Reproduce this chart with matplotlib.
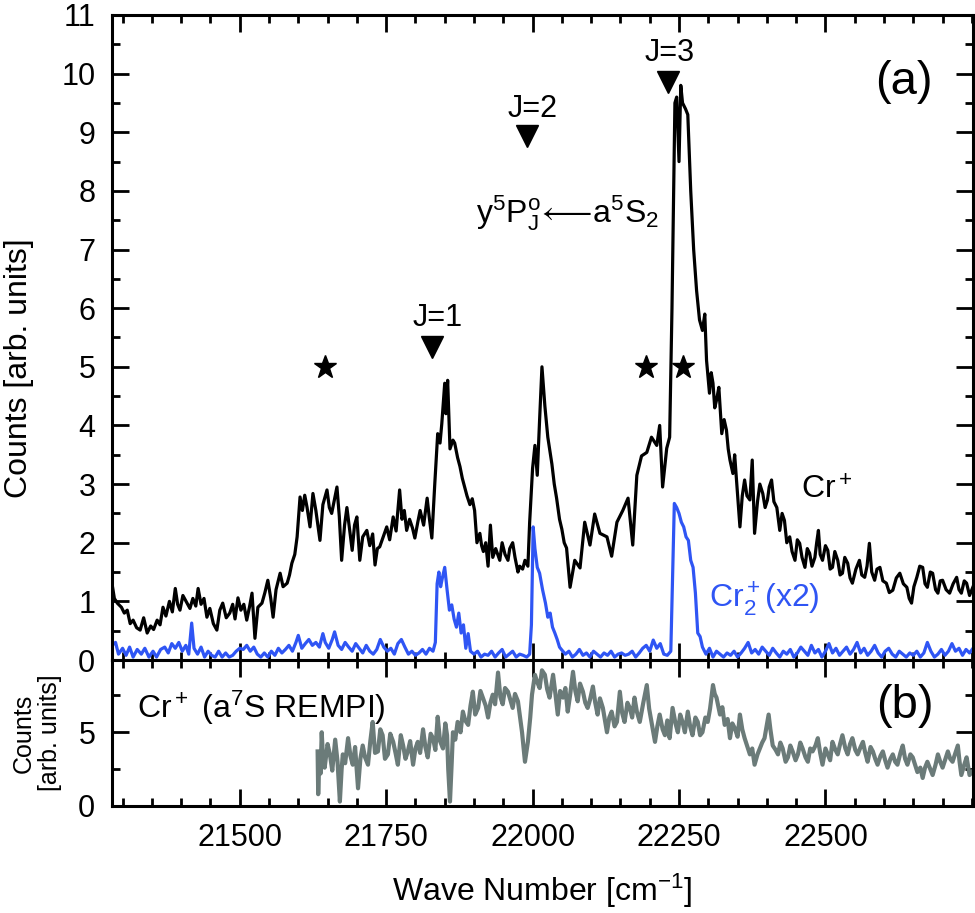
#!/usr/bin/env python3
# Cr+ / Cr2+ spectra around the y5P <- a5S2 lines, plus the a7S REMPI trace

import matplotlib
matplotlib.use("Agg")
import matplotlib.pyplot as plt
from matplotlib.ticker import MultipleLocator

plt.rcParams['font.family'] = ['Liberation Sans', 'DejaVu Sans']
plt.rcParams['mathtext.fontset'] = 'custom'
plt.rcParams['mathtext.rm'] = 'Liberation Sans'
plt.rcParams['mathtext.it'] = 'Liberation Sans:italic'
plt.rcParams['mathtext.bf'] = 'Liberation Sans:bold'
plt.rcParams['mathtext.fallback'] = 'stixsans'

# ---- panel (a): Cr+ signal (black) ----
cr_x = [21282, 21286, 21291, 21298, 21303, 21308, 21313, 21318, 21324, 21330,
        21336, 21342, 21348, 21353, 21359, 21364, 21369, 21374, 21380, 21385,
        21390, 21394, 21398, 21403, 21410, 21415, 21420, 21425, 21429, 21434,
        21439, 21444, 21449, 21455, 21461, 21466, 21471, 21477, 21483, 21488,
        21492, 21497, 21502, 21507, 21512, 21517, 21521, 21526, 21531, 21538,
        21543, 21548, 21553, 21557, 21562, 21569, 21574, 21581, 21585, 21589,
        21594, 21598, 21603, 21607, 21611, 21615, 21620, 21625, 21630, 21637,
        21642, 21649, 21653, 21657, 21661, 21666, 21670, 21674, 21679, 21683,
        21688, 21692, 21696, 21700, 21705, 21710, 21717, 21722, 21727, 21731,
        21735, 21739, 21745, 21751, 21756, 21762, 21767, 21773, 21777, 21781,
        21785, 21790, 21795, 21799, 21804, 21808, 21814, 21820, 21824, 21828,
        21833, 21838, 21842, 21845, 21850, 21852, 21855, 21859, 21864, 21867,
        21872, 21876, 21880, 21884, 21888, 21893, 21897, 21901, 21905, 21910,
        21913, 21916, 21920, 21924, 21928, 21932, 21937, 21944, 21948, 21953,
        21958, 21961, 21966, 21970, 21975, 21978, 21983, 21987, 21992, 21995,
        22000, 22004, 22008, 22012, 22016, 22021, 22026, 22033, 22037, 22041,
        22046, 22050, 22054, 22058, 22064, 22072, 22081, 22089, 22098, 22106,
        22115, 22127, 22135, 22144, 22154, 22163, 22171, 22178, 22186, 22195,
        22203, 22212, 22217, 22222, 22229, 22234, 22238, 22243, 22246, 22250,
        22253, 22256, 22261, 22265, 22270, 22275, 22280, 22285, 22290, 22294,
        22297, 22302, 22305, 22308, 22311, 22314, 22318, 22323, 22327, 22331,
        22334, 22337, 22342, 22345, 22349, 22354, 22358, 22362, 22366, 22371,
        22375, 22379, 22384, 22388, 22393, 22397, 22401, 22404, 22408, 22412,
        22417, 22422, 22426, 22430, 22434, 22439, 22443, 22448, 22452, 22456,
        22460, 22465, 22469, 22473, 22477, 22482, 22485, 22488, 22491, 22495,
        22500, 22504, 22508, 22512, 22516, 22521, 22525, 22529, 22533, 22538,
        22542, 22546, 22552, 22558, 22562, 22567, 22571, 22575, 22579, 22584,
        22588, 22593, 22598, 22604, 22609, 22615, 22621, 22627, 22633, 22639,
        22643, 22647, 22651, 22656, 22661, 22666, 22670, 22674, 22679, 22683,
        22688, 22692, 22696, 22700, 22706, 22712, 22718, 22724, 22728, 22732,
        22737, 22741, 22746, 22752]
cr_y = [1.30, 1.05, 0.97, 0.90, 0.80, 0.85, 0.62, 0.68, 0.55, 0.51,
        0.72, 0.46, 0.58, 0.52, 0.68, 0.60, 0.90, 0.75, 1.00, 0.82,
        1.22, 0.95, 0.85, 1.10, 0.97, 0.88, 1.05, 0.92, 1.22, 0.95,
        1.05, 0.73, 0.88, 0.62, 0.51, 0.85, 0.97, 0.72, 0.80, 0.95,
        0.70, 1.06, 0.85, 0.95, 0.68, 0.92, 1.14, 0.37, 0.90, 0.97,
        1.15, 1.36, 1.05, 0.73, 1.20, 1.48, 1.25, 1.31, 1.45, 1.65,
        1.80, 2.10, 2.78, 2.55, 2.81, 2.60, 2.27, 2.84, 2.55, 2.04,
        2.65, 2.90, 2.60, 2.50, 2.70, 2.95, 2.45, 1.70, 2.30, 2.60,
        2.20, 1.87, 2.30, 2.44, 1.70, 2.10, 2.21, 1.95, 2.15, 1.62,
        1.90, 1.93, 2.10, 2.27, 2.05, 2.44, 2.20, 2.90, 2.40, 2.55,
        2.21, 2.40, 2.25, 2.08, 2.35, 2.55, 2.30, 2.76, 2.40, 2.08,
        3.00, 3.86, 3.70, 4.03, 4.72, 4.20, 4.77, 3.60, 3.75, 3.70,
        3.45, 3.30, 3.10, 2.95, 2.80, 2.65, 2.75, 2.55, 2.00, 2.16,
        1.95, 1.85, 2.00, 1.60, 2.30, 1.75, 1.90, 1.70, 2.00, 1.80,
        1.70, 1.90, 2.00, 1.75, 1.50, 1.60, 1.55, 1.70, 1.60, 2.35,
        3.27, 3.66, 3.15, 4.10, 5.00, 4.33, 3.80, 3.34, 3.00, 2.76,
        2.40, 2.23, 2.00, 1.91, 1.24, 1.70, 1.57, 2.35, 1.96, 2.49,
        2.16, 2.10, 1.77, 2.35, 2.55, 2.76, 1.96, 3.15, 3.48, 3.54,
        3.80, 3.66, 4.00, 2.95, 3.61, 3.80, 6.00, 9.50, 9.60, 8.50,
        9.80, 9.50, 9.40, 9.30, 8.00, 7.00, 6.30, 5.80, 5.62, 5.90,
        5.11, 4.55, 4.90, 4.72, 4.30, 4.43, 4.65, 3.86, 4.10, 3.92,
        3.60, 3.41, 3.18, 3.50, 2.95, 2.27, 2.80, 3.07, 2.80, 2.73,
        3.41, 2.16, 2.70, 3.00, 2.84, 2.60, 2.73, 2.95, 3.07, 2.70,
        2.60, 2.21, 2.50, 2.38, 2.00, 2.10, 1.85, 1.70, 2.05, 1.99,
        1.75, 1.58, 1.90, 1.82, 1.60, 1.75, 2.00, 2.21, 1.80, 1.70,
        1.95, 1.87, 1.55, 1.58, 1.85, 1.70, 1.45, 1.48, 1.75, 1.65,
        1.40, 1.31, 1.55, 1.70, 1.45, 1.41, 1.60, 1.99, 1.50, 1.36,
        1.55, 1.58, 1.35, 1.31, 1.15, 1.19, 1.40, 1.48, 1.30, 1.24,
        1.05, 0.97, 1.25, 1.41, 1.60, 1.58, 1.30, 1.24, 1.50, 1.48,
        1.20, 1.14, 1.35, 1.36, 1.20, 1.14, 1.30, 1.41, 1.20, 1.14,
        1.35, 1.31, 1.10, 1.25]

# ---- panel (a): Cr2+ signal x2 (blue) ----
cr2_x = [21282, 21288, 21293, 21300, 21306, 21312, 21318, 21325, 21332, 21338,
         21345, 21352, 21358, 21365, 21372, 21378, 21384, 21390, 21396, 21402,
         21408, 21413, 21418, 21422, 21428, 21434, 21440, 21446, 21452, 21458,
         21464, 21470, 21476, 21482, 21488, 21494, 21500, 21506, 21512, 21518,
         21524, 21530, 21536, 21542, 21548, 21554, 21560, 21566, 21572, 21578,
         21584, 21590, 21596, 21600, 21606, 21612, 21618, 21624, 21630, 21636,
         21642, 21646, 21652, 21658, 21662, 21668, 21674, 21680, 21686, 21692,
         21698, 21704, 21710, 21716, 21722, 21728, 21734, 21740, 21746, 21752,
         21758, 21764, 21770, 21776, 21782, 21788, 21794, 21800, 21806, 21812,
         21818, 21824, 21830, 21834, 21837, 21840, 21843, 21846, 21850, 21854,
         21858, 21862, 21866, 21870, 21874, 21878, 21882, 21886, 21890, 21894,
         21900, 21906, 21912, 21918, 21924, 21930, 21936, 21942, 21948, 21954,
         21960, 21966, 21972, 21978, 21984, 21990, 21995, 21998, 22001, 22004,
         22008, 22012, 22017, 22022, 22026, 22030, 22034, 22038, 22042, 22046,
         22050, 22056, 22062, 22068, 22074, 22080, 22086, 22092, 22098, 22104,
         22110, 22116, 22122, 22128, 22134, 22140, 22146, 22152, 22158, 22164,
         22170, 22176, 22182, 22188, 22194, 22200, 22206, 22212, 22218, 22224,
         22230, 22236, 22239, 22242, 22246, 22250, 22254, 22258, 22262, 22266,
         22270, 22274, 22278, 22282, 22286, 22290, 22296, 22302, 22308, 22314,
         22320, 22326, 22332, 22338, 22344, 22350, 22356, 22362, 22368, 22374,
         22380, 22386, 22392, 22398, 22404, 22410, 22416, 22422, 22428, 22434,
         22440, 22446, 22452, 22458, 22464, 22470, 22476, 22482, 22488, 22494,
         22500, 22506, 22512, 22518, 22524, 22530, 22536, 22542, 22548, 22554,
         22560, 22566, 22572, 22578, 22584, 22590, 22596, 22602, 22608, 22614,
         22620, 22626, 22632, 22638, 22644, 22650, 22656, 22662, 22668, 22674,
         22680, 22686, 22692, 22698, 22704, 22710, 22716, 22722, 22728, 22734,
         22740, 22746, 22752]
cr2_y = [0.25, 0.30, 0.10, 0.20, 0.08, 0.22, 0.05, 0.18, 0.10, 0.20,
         0.05, 0.15, 0.05, 0.18, 0.22, 0.12, 0.28, 0.20, 0.30, 0.15,
         0.25, 0.10, 0.63, 0.20, 0.10, 0.22, 0.05, 0.15, 0.08, 0.05,
         0.15, 0.05, 0.12, 0.05, 0.08, 0.15, 0.20, 0.18, 0.25, 0.15,
         0.22, 0.10, 0.05, 0.12, 0.05, 0.15, 0.08, 0.20, 0.12, 0.18,
         0.25, 0.15, 0.30, 0.42, 0.20, 0.28, 0.35, 0.25, 0.30, 0.22,
         0.45, 0.30, 0.20, 0.35, 0.48, 0.25, 0.18, 0.30, 0.22, 0.15,
         0.28, 0.20, 0.12, 0.25, 0.15, 0.10, 0.18, 0.35, 0.22, 0.15,
         0.20, 0.10, 0.28, 0.35, 0.22, 0.10, 0.15, 0.08, 0.12, 0.18,
         0.10, 0.20, 0.15, 0.30, 1.30, 1.50, 1.25, 1.40, 1.58, 1.20,
         0.85, 0.94, 0.70, 0.56, 0.80, 0.46, 0.60, 0.20, 0.45, 0.15,
         0.10, 0.15, 0.05, 0.10, 0.08, 0.15, 0.05, 0.12, 0.18, 0.05,
         0.10, 0.15, 0.05, 0.10, 0.08, 0.05, 0.10, 0.60, 2.27, 1.90,
         1.58, 1.48, 1.20, 0.97, 0.73, 0.80, 0.56, 0.46, 0.35, 0.22,
         0.17, 0.10, 0.15, 0.05, 0.10, 0.18, 0.08, 0.12, 0.05, 0.15,
         0.10, 0.05, 0.12, 0.08, 0.15, 0.05, 0.10, 0.12, 0.08, 0.10,
         0.15, 0.05, 0.12, 0.20, 0.25, 0.15, 0.34, 0.20, 0.28, 0.10,
         0.08, 0.15, 1.40, 2.67, 2.60, 2.50, 2.35, 2.27, 2.10, 2.04,
         1.70, 1.58, 1.14, 0.46, 0.40, 0.22, 0.10, 0.20, 0.05, 0.15,
         0.10, 0.05, 0.12, 0.08, 0.15, 0.05, 0.12, 0.20, 0.30, 0.12,
         0.18, 0.10, 0.22, 0.15, 0.08, 0.20, 0.12, 0.05, 0.15, 0.10,
         0.18, 0.05, 0.12, 0.22, 0.15, 0.08, 0.25, 0.12, 0.18, 0.05,
         0.15, 0.28, 0.12, 0.20, 0.08, 0.15, 0.22, 0.10, 0.18, 0.30,
         0.12, 0.20, 0.08, 0.15, 0.25, 0.12, 0.05, 0.15, 0.20, 0.10,
         0.05, 0.15, 0.10, 0.05, 0.12, 0.08, 0.15, 0.05, 0.12, 0.30,
         0.15, 0.05, 0.10, 0.18, 0.08, 0.15, 0.28, 0.15, 0.20, 0.08,
         0.18, 0.12, 0.20]

# ---- panel (b): Cr+ via a7S REMPI (grey) ----
rempi_x = [21633, 21634, 21636, 21638, 21640, 21642, 21645, 21650, 21654, 21658,
           21663, 21667, 21671, 21674, 21676, 21680, 21685, 21689, 21693, 21697,
           21702, 21706, 21710, 21714, 21719, 21723, 21727, 21731, 21736, 21740,
           21744, 21748, 21753, 21757, 21762, 21766, 21770, 21775, 21779, 21783,
           21787, 21791, 21796, 21800, 21804, 21808, 21813, 21817, 21821, 21826,
           21830, 21834, 21838, 21842, 21847, 21851, 21854, 21856, 21859, 21862,
           21864, 21868, 21872, 21877, 21881, 21885, 21890, 21894, 21898, 21902,
           21907, 21911, 21915, 21920, 21924, 21928, 21932, 21936, 21941, 21945,
           21949, 21953, 21958, 21962, 21966, 21970, 21975, 21982, 21987, 21992,
           21996, 21999, 22004, 22008, 22012, 22016, 22021, 22025, 22029, 22035,
           22039, 22043, 22047, 22052, 22056, 22060, 22064, 22069, 22073, 22077,
           22081, 22086, 22090, 22094, 22098, 22103, 22107, 22111, 22115, 22120,
           22127, 22131, 22135, 22140, 22144, 22149, 22153, 22157, 22162, 22166,
           22170, 22174, 22178, 22183, 22189, 22195, 22199, 22203, 22209, 22213,
           22217, 22222, 22226, 22230, 22234, 22239, 22244, 22248, 22252, 22256,
           22260, 22265, 22269, 22273, 22278, 22282, 22286, 22290, 22295, 22299,
           22303, 22308, 22311, 22314, 22320, 22324, 22328, 22333, 22337, 22341,
           22345, 22350, 22354, 22358, 22362, 22367, 22371, 22375, 22379, 22384,
           22388, 22392, 22396, 22403, 22406, 22410, 22415, 22419, 22423, 22427,
           22432, 22436, 22440, 22444, 22449, 22453, 22457, 22461, 22466, 22470,
           22474, 22478, 22483, 22487, 22491, 22495, 22500, 22504, 22508, 22512,
           22517, 22521, 22525, 22529, 22534, 22538, 22542, 22546, 22551, 22555,
           22560, 22564, 22568, 22572, 22577, 22581, 22585, 22589, 22594, 22598,
           22602, 22606, 22611, 22615, 22619, 22623, 22628, 22632, 22636, 22640,
           22645, 22649, 22653, 22657, 22662, 22666, 22670, 22674, 22679, 22683,
           22688, 22692, 22696, 22700, 22705, 22709, 22713, 22717, 22722, 22726,
           22729, 22732, 22737, 22741, 22744, 22746, 22752]
rempi_y = [3.7, 0.8, 3.5, 2.2, 5.0, 3.4, 2.6, 4.2, 3.5, 2.4,
           4.5, 3.0, 0.3, 2.5, 3.5, 2.9, 4.6, 3.4, 2.8, 4.0,
           1.2, 3.2, 4.1, 3.3, 2.8, 4.4, 5.7, 3.6, 3.7, 5.2,
           4.8, 3.2, 3.5, 4.9, 4.35, 3.6, 2.8, 4.8, 4.1, 3.2,
           3.7, 4.4, 2.8, 3.9, 4.35, 3.6, 5.2, 4.0, 3.3, 4.9,
           4.6, 3.8, 6.05, 4.4, 3.9, 5.6, 4.8, 2.5, 0.3, 3.0,
           5.0, 4.5, 5.7, 5.0, 6.4, 5.8, 5.5, 6.8, 7.75, 6.2,
           6.65, 7.8, 7.35, 6.8, 6.0, 7.0, 7.55, 6.9, 9.05, 7.4,
           6.9, 8.0, 7.75, 7.2, 6.65, 7.6, 7.1, 5.0, 3.0, 4.35,
           6.0, 7.55, 8.9, 8.4, 8.0, 9.2, 8.9, 7.9, 7.35, 8.9,
           7.6, 6.2, 7.8, 7.35, 8.0, 6.4, 7.5, 9.1, 7.8, 7.1,
           8.3, 7.75, 7.0, 6.65, 7.2, 8.1, 7.0, 6.2, 7.3, 6.65,
           5.0, 6.0, 6.4, 5.4, 5.7, 7.75, 6.3, 5.7, 7.0, 6.65,
           6.0, 7.35, 6.4, 5.7, 7.0, 8.2, 6.6, 5.7, 4.35, 5.4,
           6.2, 5.2, 4.8, 5.8, 4.6, 6.65, 5.6, 5.0, 6.2, 5.7,
           5.0, 6.4, 5.4, 4.8, 6.0, 5.7, 4.8, 5.0, 6.0, 5.7,
           6.6, 8.2, 7.6, 7.35, 6.2, 6.7, 5.5, 5.9, 4.6, 5.6,
           5.3, 4.7, 6.2, 5.2, 4.6, 4.0, 3.5, 3.9, 2.8, 3.5,
           3.9, 4.3, 4.6, 6.2, 5.2, 4.1, 3.8, 3.5, 4.3, 3.9,
           3.0, 3.3, 4.1, 3.7, 3.1, 3.5, 4.3, 3.9, 3.3, 3.0,
           3.9, 3.7, 4.1, 4.6, 3.6, 2.8, 3.9, 3.5, 3.1, 4.35,
           3.8, 3.5, 4.2, 4.8, 3.9, 3.5, 4.2, 4.6, 3.8, 3.5,
           4.0, 4.35, 3.6, 3.0, 4.0, 3.7, 3.2, 2.8, 3.4, 3.7,
           3.1, 2.6, 3.2, 3.5, 3.0, 2.8, 3.6, 4.1, 3.2, 2.8,
           3.5, 3.3, 2.8, 2.3, 2.6, 1.9, 2.6, 3.0, 2.5, 2.1,
           2.8, 3.5, 3.0, 2.6, 3.2, 3.7, 3.2, 3.0, 3.6, 4.1,
           3.0, 2.1, 2.8, 3.3, 2.6, 2.1, 2.4]

# line markers: J assignments (triangles) and stars
j_labels = ['J=1', 'J=2', 'J=3']
j_mark_x = [21828, 21990, 22231]
j_mark_y = [5.33, 8.94, 9.85]
j_text_x = [21838, 22000, 22234]
j_text_y = [5.84, 9.40, 10.36]
star_x = [21645, 22193, 22256]
star_y = [5.0, 5.0, 5.0]

xmin, xmax = 21282, 22752
xticks = [21500, 21750, 22000, 22250, 22500]

BLUE = '#2f55f4'
GREY = '#6b7b79'

fig = plt.figure(figsize=(9.75, 9.13), dpi=100)
ax1 = fig.add_axes([0.1149, 0.2771, 0.8831, 0.7065])
ax2 = fig.add_axes([0.1149, 0.1172, 0.8831, 0.1599])

ax1.plot(cr2_x, cr2_y, color=BLUE, lw=2.3)
ax1.plot(cr_x, cr_y, color='black', lw=2.3)
ax1.plot(j_mark_x, j_mark_y, linestyle='None', marker='v', ms=16, color='black')
ax1.plot(star_x, star_y, linestyle='None', marker='*', ms=17, color='black')
for lab, tx, ty in zip(j_labels, j_text_x, j_text_y):
    ax1.text(tx, ty, lab, fontsize=22, ha='center', va='center')

ax1.text(22060, 7.46, 'y$^5$P$^{\\rm o}_{\\rm J}\\!\\longleftarrow\\!$a$^5$S$_2$',
         fontsize=23, ha='center', va='baseline')
ax1.text(22459, 2.76, 'Cr$^+$', fontsize=23, ha='left', va='baseline')
ax1.text(22302, 0.90, 'Cr$_2^+$(x2)', fontsize=23, ha='left', va='baseline',
         color=BLUE)
ax1.text(22584, 9.66, '(a)', fontsize=34, ha='left', va='baseline')

ax2.plot(rempi_x, rempi_y, color=GREY, lw=3.0)
ax2.text(21325, 6.0, 'Cr$^+$ (a$^7$S REMPI)', fontsize=23, ha='left',
         va='baseline')
ax2.text(22587, 6.0, '(b)', fontsize=34, ha='left', va='baseline')

ax1.set_xlim(xmin, xmax)
ax2.set_xlim(xmin, xmax)
ax1.set_ylim(0, 11)
ax2.set_ylim(0, 9.9)

ax1.set_yticks(range(0, 12))
ax1.yaxis.set_minor_locator(MultipleLocator(0.5))
ax1.set_xticks(xticks)
ax1.xaxis.set_minor_locator(MultipleLocator(50))
ax1.tick_params(axis='x', labelbottom=False)

ax2.set_yticks([0, 5])
ax2.yaxis.set_minor_locator(MultipleLocator(2.5))
ax2.set_xticks(xticks)
ax2.xaxis.set_minor_locator(MultipleLocator(50))

for ax in (ax1, ax2):
    ax.tick_params(which='both', direction='in', top=True, right=True,
                   width=2, labelsize=22, pad=12)
    ax.tick_params(which='major', length=12)
    ax.tick_params(which='minor', length=6)
    for sp in ax.spines.values():
        sp.set_linewidth(2.2)

ax1.set_ylabel('Counts [arb. units]', fontsize=23)
ax1.yaxis.set_label_coords(-0.0906, 0.453)
ax2.set_ylabel('Counts\n[arb. units]', fontsize=18, linespacing=1.1)
ax2.yaxis.set_label_coords(-0.058, 0.5)
ax2.set_xlabel('Wave Number [cm$^{-1}$]', fontsize=23, labelpad=14)

fig.savefig('out.png', dpi=100)
